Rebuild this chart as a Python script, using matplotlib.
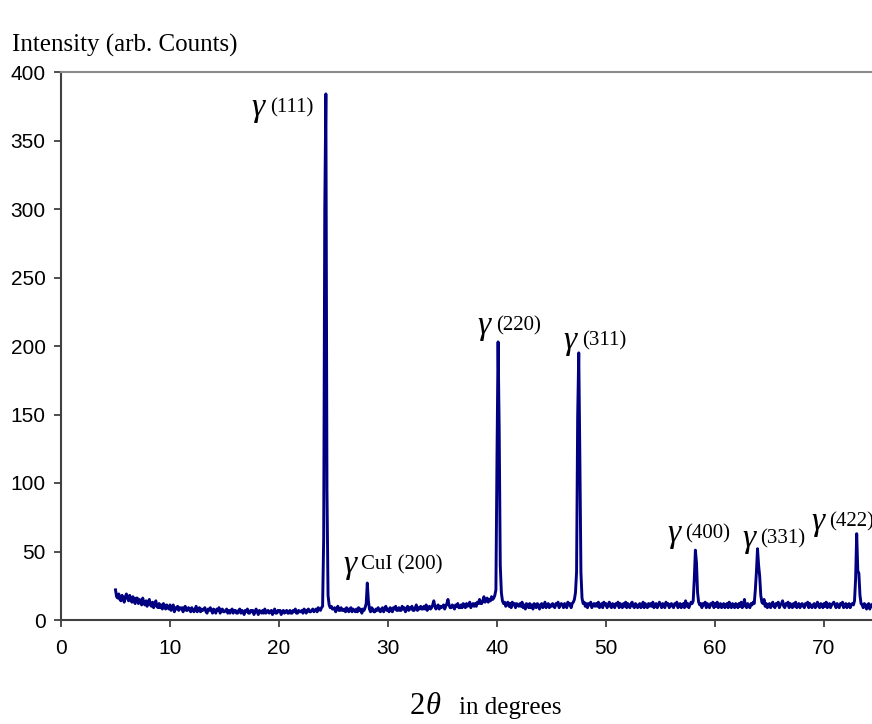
import numpy as np
import matplotlib.pyplot as plt

# scan from 5.0 deg in 0.1 deg steps, one row per degree
two_theta = np.round(5.0 + 0.1 * np.arange(700), 1)
counts = np.array([
    22, 17, 16, 19, 15, 14, 18, 16, 13, 17,   # 5
    19, 16, 14, 18, 15, 13, 17, 14, 12, 16,   # 6
    16, 12, 15, 13, 11, 16, 12, 11, 14, 10,   # 7
    13, 15, 11, 10, 13, 9, 12, 14, 10, 9,     # 8
    12, 9, 11, 8, 12, 10, 8, 11, 9, 8,        # 9
    11, 7, 9, 11, 6, 9, 8, 10, 7, 9,          # 10
    8, 9, 6, 9, 10, 7, 7, 9, 8, 6,            # 11
    9, 7, 6, 8, 10, 6, 8, 9, 6, 8,            # 12
    7, 8, 9, 6, 5, 8, 7, 9, 7, 5,             # 13
    8, 7, 5, 8, 7, 9, 5, 7, 8, 6,             # 14
    6, 7, 8, 5, 7, 5, 7, 8, 5, 7,             # 15
    7, 5, 5, 7, 8, 5, 7, 6, 4, 7,             # 16
    6, 8, 5, 5, 7, 6, 7, 4, 6, 8,             # 17
    6, 4, 7, 6, 5, 7, 5, 8, 5, 6,             # 18
    7, 5, 6, 7, 4, 6, 8, 5, 5, 7,             # 19
    6, 7, 4, 6, 7, 5, 6, 7, 5, 5,             # 20
    7, 5, 5, 7, 6, 8, 5, 5, 7, 6,             # 21
    6, 7, 5, 8, 7, 5, 7, 8, 6, 6,             # 22
    7, 8, 6, 7, 8, 6, 9, 8, 7, 9,             # 23
    10, 60, 300, 384, 95, 18, 11, 9, 10, 8,   # 24
    8, 9, 6, 8, 10, 7, 7, 9, 7, 7,            # 25
    8, 6, 9, 8, 6, 8, 9, 6, 8, 7,             # 26
    6, 8, 6, 9, 7, 8, 5, 8, 7, 9,             # 27
    12, 27, 14, 8, 6, 9, 8, 6, 6, 8,          # 28
    7, 9, 7, 6, 8, 9, 6, 8, 10, 7,            # 29
    8, 6, 9, 8, 6, 9, 8, 10, 7, 7,            # 30
    9, 7, 7, 10, 8, 9, 6, 8, 10, 7,           # 31
    9, 8, 10, 7, 7, 9, 11, 7, 9, 8,           # 32
    10, 8, 8, 10, 8, 11, 7, 9, 10, 8,         # 33
    9, 11, 14, 10, 8, 10, 11, 8, 10, 9,       # 34
    10, 11, 8, 10, 12, 15, 11, 9, 9, 11,      # 35
    10, 8, 11, 10, 12, 9, 9, 11, 9, 12,       # 36
    11, 9, 12, 10, 11, 13, 9, 11, 12, 10,     # 37
    12, 10, 13, 12, 15, 12, 12, 14, 17, 13,   # 38
    14, 16, 13, 15, 14, 17, 15, 16, 18, 22,   # 39
    120, 203, 140, 40, 20, 14, 12, 13, 10, 12,  # 40
    13, 10, 12, 9, 13, 11, 12, 9, 12, 11,     # 41
    10, 12, 10, 13, 9, 11, 8, 12, 11, 9,      # 42
    12, 9, 11, 8, 12, 11, 9, 12, 11, 8,       # 43
    11, 12, 9, 11, 13, 9, 11, 12, 9, 11,      # 44
    10, 12, 10, 9, 12, 11, 13, 9, 11, 12,     # 45
    11, 9, 12, 11, 9, 13, 11, 12, 9, 12,      # 46
    13, 15, 20, 35, 148, 195, 120, 35, 16, 12,  # 47
    13, 10, 12, 9, 12, 11, 13, 9, 11, 12,     # 48
    10, 12, 10, 13, 9, 11, 12, 9, 13, 11,     # 49
    12, 9, 11, 13, 10, 9, 12, 11, 9, 12,      # 50
    11, 13, 9, 12, 11, 9, 12, 10, 13, 9,      # 51
    12, 10, 9, 12, 13, 10, 9, 12, 11, 9,      # 52
    11, 12, 9, 11, 13, 9, 12, 10, 9, 12,      # 53
    10, 12, 10, 13, 9, 11, 12, 9, 11, 13,     # 54
    11, 9, 12, 10, 9, 13, 11, 12, 9, 11,      # 55
    12, 10, 9, 12, 11, 13, 9, 11, 12, 9,      # 56
    11, 12, 9, 14, 10, 12, 9, 11, 13, 12,     # 57
    14, 30, 51, 42, 20, 13, 11, 12, 9, 12,    # 58
    11, 13, 9, 12, 10, 9, 12, 11, 13, 9,      # 59
    12, 10, 13, 9, 11, 12, 9, 11, 12, 9,      # 60
    11, 12, 9, 13, 10, 9, 12, 11, 9, 12,      # 61
    11, 9, 12, 10, 13, 9, 11, 15, 10, 9,      # 62
    12, 10, 9, 12, 11, 13, 12, 22, 35, 52,    # 63
    40, 32, 18, 13, 12, 15, 10, 12, 9, 11,    # 64
    12, 9, 11, 13, 10, 9, 12, 11, 13, 9,      # 65
    11, 12, 14, 10, 9, 12, 11, 13, 9, 12,     # 66
    11, 9, 12, 10, 13, 9, 11, 12, 9, 11,      # 67
    12, 10, 9, 12, 11, 13, 9, 12, 10, 9,      # 68
    11, 12, 9, 11, 13, 10, 9, 12, 11, 9,      # 69
    12, 10, 13, 9, 11, 12, 9, 11, 12, 13,     # 70
    11, 9, 12, 10, 9, 12, 11, 13, 9, 11,      # 71
    12, 9, 11, 12, 9, 11, 12, 11, 14, 30,     # 72
    63, 36, 34, 18, 12, 11, 9, 12, 11, 8,     # 73
    11, 12, 8, 11, 10, 12, 11, 9, 12, 11,     # 74
])

# peak labels: hkl text, gamma left edge, text left edge, vertical centre
hkl = ['(111)', 'CuI (200)', '(220)', '(311)', '(400)', '(331)', '(422)']
gamma_x = [17.5, 25.9, 38.2, 46.05, 55.6, 62.5, 68.8]
text_x = [19.2, 27.5, 39.9, 47.8, 57.3, 64.1, 70.5]
label_y = [374, 40, 215, 204, 63, 59, 72]

serif = 'Liberation Serif'
sans = 'Liberation Sans'
dark = '#404040'

fig = plt.figure(figsize=(8.72, 7.24), dpi=100)
ax = fig.add_axes([61 / 872, 104 / 724, 1.0, 548 / 724])

ax.plot(two_theta, counts, color='#000080', lw=2.1)

ax.set_xlim(0, 80)
ax.set_ylim(0, 400)
ax.set_xticks(np.arange(0, 71, 10))
ax.set_yticks(np.arange(0, 401, 50))

for s in ['left', 'bottom']:
    ax.spines[s].set_color(dark)
    ax.spines[s].set_linewidth(1.5)
ax.spines['top'].set_color('#8a8a8a')
ax.spines['top'].set_linewidth(1.5)
ax.spines['right'].set_visible(False)

ax.tick_params(direction='out', length=5, width=1.3, color=dark,
               labelsize=15, labelcolor='black')
ax.tick_params(axis='y', pad=6)
ax.tick_params(axis='x', pad=9)
for lab in ax.get_xticklabels() + ax.get_yticklabels():
    lab.set_family(sans)

for t, gx, tx, ly in zip(hkl, gamma_x, text_x, label_y):
    ax.text(gx, ly, '\u03b3', family=serif, style='italic', fontsize=24,
            ha='left', va='center')
    ax.text(tx, ly, t, family=serif, fontsize=15, ha='left', va='center')

fig.text(12 / 872, 1 - 45 / 724, 'Intensity (arb. Counts)', family=serif,
         fontsize=18, ha='left', va='center')
fig.text(410 / 872, 1 - 714 / 724, '2', family=serif, fontsize=22,
         ha='left', va='baseline')
fig.text(426 / 872, 1 - 714 / 724, '\u03b8', family=serif, style='italic',
         fontsize=22, ha='left', va='baseline')
fig.text(459 / 872, 1 - 714 / 724, 'in degrees', family=serif, fontsize=18,
         ha='left', va='baseline')

fig.savefig('out.png', dpi=100)
